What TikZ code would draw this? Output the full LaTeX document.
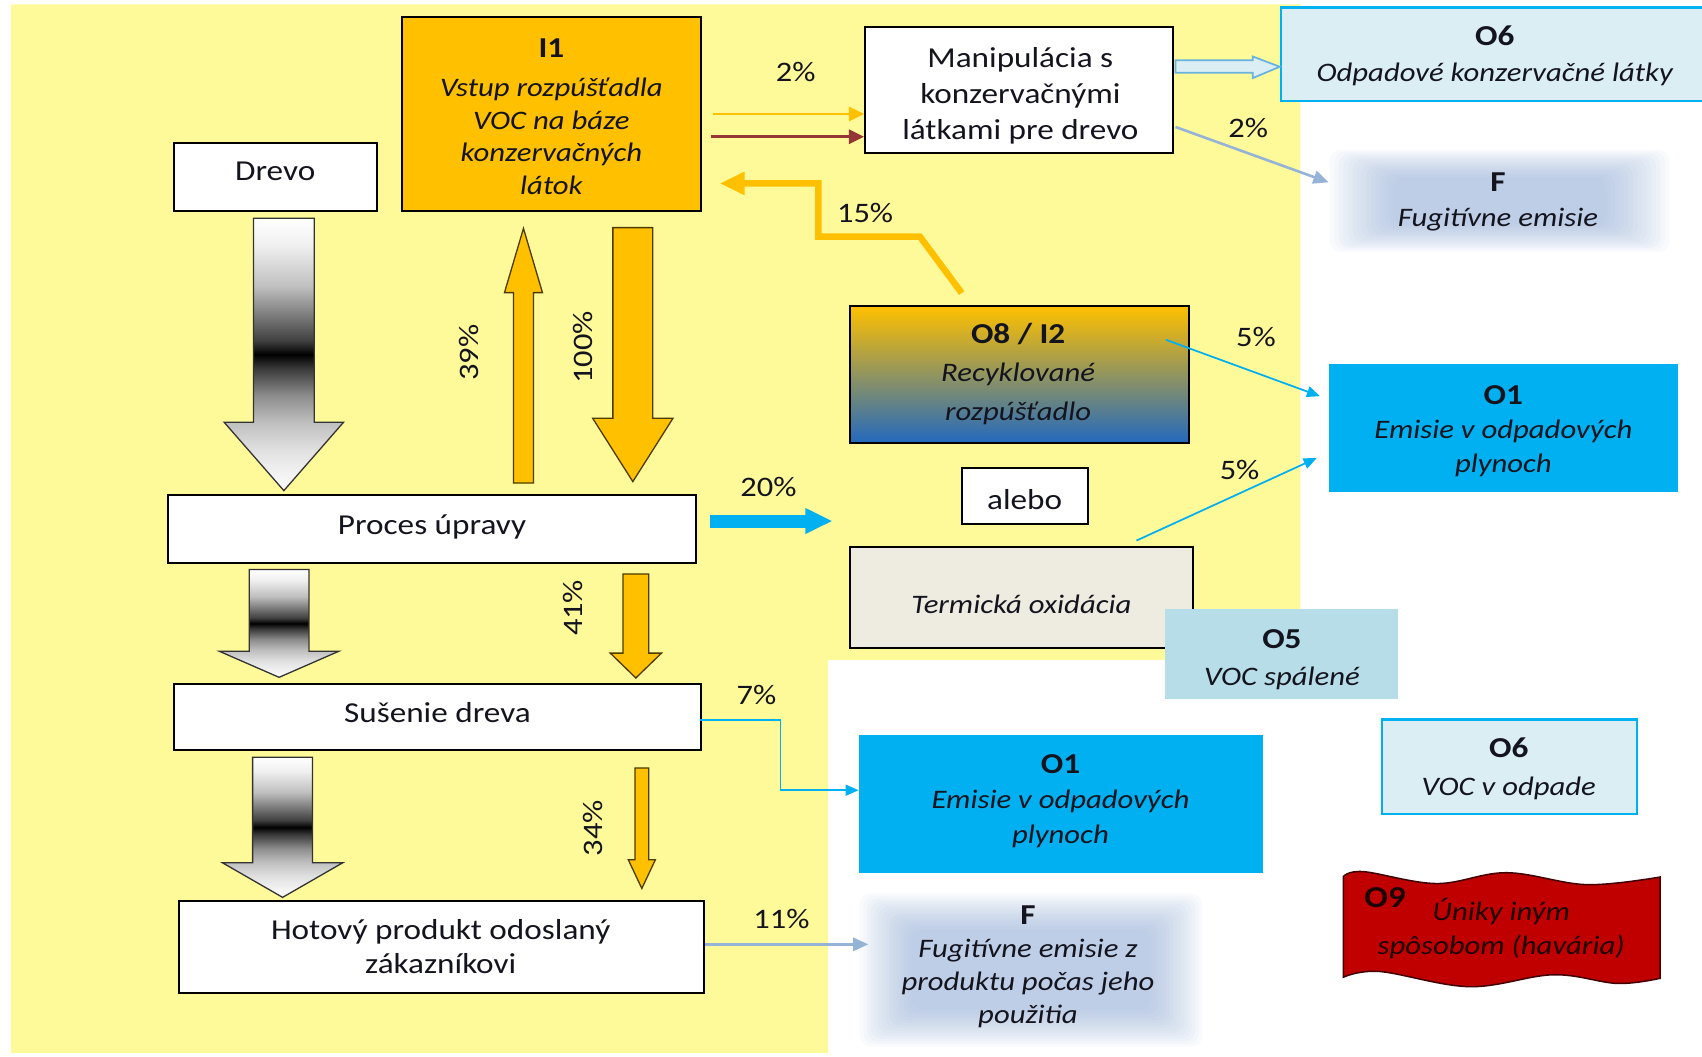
\documentclass[tikz,border=0pt]{standalone}
\usepackage{fontspec}
\setmainfont{Carlito}[FakeStretch=1.15]
\usetikzlibrary{arrows.meta}
\definecolor{bgyellow}{RGB}{255,250,153}
\definecolor{orng}{RGB}{255,192,0}
\definecolor{cyanb}{RGB}{0,176,240}
\definecolor{paleblue}{RGB}{219,238,244}
\definecolor{o5blue}{RGB}{183,222,232}
\definecolor{steel}{RGB}{149,179,215}
\definecolor{beige}{RGB}{238,236,225}
\definecolor{darkred}{RGB}{192,0,0}
\definecolor{brownarr}{RGB}{149,55,53}
\definecolor{glowc}{RGB}{150,178,218}
\definecolor{txt}{RGB}{20,20,30}
\definecolor{o8mid}{RGB}{185,160,150}
\definecolor{o8blue}{RGB}{35,105,190}
\pgfdeclareverticalshading{woodgrad}{100bp}{color(0bp)=(black!2); color(25bp)=(black!2); color(27.5bp)=(black!4); color(32.5bp)=(black!12); color(37.5bp)=(black!25); color(42.5bp)=(black!45); color(47.5bp)=(black!78); color(50bp)=(black); color(52.5bp)=(black!75); color(57.5bp)=(black!50); color(62.5bp)=(black!25); color(70bp)=(black!6); color(75bp)=(white); color(100bp)=(white)}
\newcommand{\rmf}{\fontsize{13.3}{16.5}\selectfont}
\newcommand{\itf}[1]{\fontsize{12.3}{#1}\selectfont\itshape}
\newcommand{\hd}[1]{{\upshape\bfseries\fontsize{13.3}{15}\selectfont #1}}
\newcommand{\blkarrow}[7]{\path[#1] ({#2-#3},#5) -- ({#2-#3},#6) -- ({#2-#4},#6) -- (#2,#7) -- ({#2+#4},#6) -- ({#2+#3},#6) -- ({#2+#3},#5) -- cycle;}
\begin{document}
\begin{tikzpicture}[x=0.5pt,y=-0.5pt,
  box/.style={draw=black, line width=0.9pt, inner sep=0pt},
  whitebox/.style={box, fill=white},
  lbl/.style={inner sep=0pt, align=center, text=txt},
  rmlbl/.style={lbl, font=\rmf},
  pct/.style={font=\fontsize{13}{15}\selectfont, text=txt, inner sep=0pt},
  orarrow/.style={fill=orng, draw=black!70!orng, line width=0.6pt},
  woodarrow/.style={shade, shading=woodgrad, draw=black!80, line width=0.6pt},
  thinor/.style={draw=orng, line width=1.3pt, -{Triangle[length=7pt,width=6.5pt]}},
  thinbr/.style={draw=brownarr, line width=1.3pt, -{Triangle[length=7pt,width=6.5pt]}},
  cyanarr/.style={draw=cyanb, line width=0.8pt, -{Triangle[length=6pt,width=5pt]}},
  steelarr/.style={draw=steel, line width=1.2pt, -{Triangle[length=7pt,width=6pt]}},
  or15/.style={draw=orng, line width=3pt, -{Triangle[length=11.5pt,width=10pt]}},
  blue20/.style={draw=cyanb, line width=6pt, -{Triangle[length=12.5pt,width=11pt]}}
]
\clip (0,0) rectangle (1568,973);
\fill[white] (0,0) rectangle (1568,973);
% background
\fill[bgyellow] (10,4) -- (1198,4) -- (1198,608) -- (763,608) -- (763,970) -- (10,970) -- cycle;

% glows (soft-edged fields behind the F texts)
\foreach \i in {0,...,14}{
  \fill[glowc, opacity=0.055, rounded corners=5pt] ({1225+4.2*\i},{138+1.8*\i}) rectangle ({1538-4.2*\i},{232-1.8*\i});
  \fill[glowc, opacity=0.055, rounded corners=5pt] ({792+3.4*\i},{823+2.4*\i}) rectangle ({1108-3.4*\i},{964-2.4*\i});
}

% boxes
\node[box, fill=orng, minimum width=138pt, minimum height=89pt] (I1) at (508,105) {};
\node[lbl, font={\itf{15}}] (I1t) at (508,107.5) {\hd{I1}\\[3pt]Vstup rozpúšťadla\\VOC na báze\\konzervačných\\látok};
\node[whitebox, minimum width=93.5pt, minimum height=31pt] (drevo) at (253.5,163) {};
\node[rmlbl] (drevot) at (253.5,158) {Drevo};
\node[whitebox, minimum width=142pt, minimum height=58pt] (manip) at (939,83) {};
\node[rmlbl] (manipt) at (940,88) {Manipulácia s\\konzervačnými\\látkami pre drevo};
\node[box, draw=cyanb, fill=paleblue, line width=1.2pt, minimum width=196pt, minimum height=43pt] (O6a) at (1376,50) {};
\node[lbl, font={\itf{16.5}}] (O6at) at (1377,51.5) {\hd{O6}\\Odpadové konzervačné látky};
\node[box, top color=orng, middle color=o8mid, bottom color=o8blue, minimum width=156pt, minimum height=63pt] (O8) at (939,345) {};
\node[lbl, font={\itf{17.6}}] (O8t) at (938,344.5) {\hd{O8 / I2}\\Recyklované\\rozpúšťadlo};
\node[box, draw=cyanb, fill=cyanb, minimum width=160pt, minimum height=58pt] (O1a) at (1385,394) {};
\node[lbl, font={\itf{15.75}}] (O1at) at (1385,397.5) {\hd{O1}\\Emisie v odpadových\\plynoch};
\node[whitebox, minimum width=58pt, minimum height=26pt] (alebo) at (944,457) {};
\node[rmlbl] (alebot) at (944,460) {alebo};
\node[whitebox, minimum width=243pt, minimum height=31.5pt] (proces) at (398,487.5) {};
\node[rmlbl] (procest) at (398,485.5) {Proces úpravy};
\node[box, fill=beige, minimum width=158pt, minimum height=46.5pt] (term) at (941,550.5) {};
\node[lbl, font={\itf{15}}] (termt) at (941,557) {Termická oxidácia};
\node[box, draw=none, fill=o5blue, minimum width=107.5pt, minimum height=41.5pt] (O5) at (1180.5,602.5) {};
\node[lbl, font={\itf{17}}] (O5t) at (1181,607.5) {\hd{O5}\\VOC spálené};
\node[whitebox, minimum width=243pt, minimum height=30.5pt] (susenie) at (403,660.5) {};
\node[rmlbl] (susenit) at (403,656.5) {Sušenie dreva};
\node[box, draw=cyanb, fill=cyanb, minimum width=185.5pt, minimum height=62.5pt] (O1b) at (977.5,740.5) {};
\node[lbl, font={\itf{16}}] (O1bt) at (977,738) {\hd{O1}\\Emisie v odpadových\\plynoch};
\node[box, draw=cyanb, fill=paleblue, line width=1.2pt, minimum width=117.5pt, minimum height=43.5pt] (O6b) at (1390.5,706.5) {};
\node[lbl, font={\itf{17.5}}] (O6bt) at (1390,708.5) {\hd{O6}\\VOC v odpade};
\node[whitebox, minimum width=242pt, minimum height=42.5pt] (hotovy) at (407,872.5) {};
\node[lbl, font={\fontsize{13.3}{16}\selectfont}] (hotovyt) at (406,872) {Hotový produkt odoslaný\\zákazníkovi};
\node[lbl, font={\itf{16.3}}] (Fa) at (1380,186) {\hd{F}\\Fugitívne emisie};
\node[lbl, font={\itf{15.2}}] (Fb) at (947,890.5) {\hd{F}\\Fugitívne emisie z\\produktu počas jeho\\použitia};

% O9 flag
\filldraw[fill=darkred, draw=black!65!darkred, line width=0.7pt]
  plot[smooth, tension=0.6] coordinates {(1237.5,807.6) (1256,803) (1323.5,814) (1388,804) (1461.7,815) (1529.3,808)}
  -- plot[smooth, tension=0.6] coordinates {(1529.3,901.3) (1490,906) (1431,898) (1354,909) (1271,895) (1237.5,900.3)}
  -- cycle;
\node[lbl, text=black!85!darkred] (O9lab) at (1276,827) {\hd{\fontsize{14}{15}\selectfont O9}};
\node[lbl, font={\itf{15.5}}, text=black!85!darkred] (O9txt) at (1383,855.5) {Úniky iným\\spôsobom (havária)};

% gray block arrows
\blkarrow{woodarrow}{261.5}{28}{55}{201}{389}{452}
\blkarrow{woodarrow}{257.1}{27.5}{55}{524.6}{600}{624}
\blkarrow{woodarrow}{260.35}{27.6}{55.45}{697.6}{794.8}{826.7}

% orange block arrows
\blkarrow{orarrow}{482.25}{9.25}{17.5}{445}{269.6}{210.4}
\blkarrow{orarrow}{583}{18.4}{37}{209.7}{385.3}{443.7}
\blkarrow{orarrow}{585.8}{11.8}{23.6}{528.8}{601.7}{624.6}
\blkarrow{orarrow}{591.3}{6.3}{12.5}{707.5}{792}{818.5}

% thin connectors
\coordinate (o2s) at (657,105);
\coordinate (b2s) at (655,126);
\draw[thinor] (o2s) -- (o2s -| manip.west);
\draw[thinbr] (b2s) -- (b2s -| manip.west);
\coordinate (r15s) at (886,270);
\coordinate (r15e) at (663,169);
\draw[or15] (r15s) -- (847.5,218) -- (754,218) -- (754,169) -- (r15e);
\coordinate (b20s) at (654,480);
\coordinate (b20e) at (767,480);
\draw[blue20] (b20s) -- (b20e);
\path[fill=paleblue, draw=steel!70!cyanb, line width=0.8pt] (1083,55.5) -- (1154,55.5) -- (1154,52) -- (1179,61.5) -- (1154,72) -- (1154,67) -- (1083,67) -- cycle;
\coordinate (mfs) at (1083,117);
\coordinate (mfe) at (1224,168);
\draw[steelarr] (mfs) -- (mfe);
\coordinate (o8s) at (1074,313);
\coordinate (o8e) at (1216,365);
\draw[cyanarr] (o8s) -- (o8e);
\coordinate (tms) at (1047,498);
\coordinate (tme) at (1213,422);
\draw[cyanarr] (tms) -- (tme);
\coordinate (sw) at (719,728);
\coordinate (ss) at (645,663);
\draw[cyanarr] (ss) -| (sw) -- (sw -| O1b.west);
\coordinate (fbin) at (800,870);
\draw[steelarr] (hotovy.east |- fbin) -- (fbin);

% labels
\node[pct] (p2a) at (733,66) {2\%};
\node[pct] (p2b) at (1150,118) {2\%};
\node[pct] (p15) at (797,196) {15\%};
\node[pct] (p5a) at (1157,310) {5\%};
\node[pct] (p5b) at (1142,433) {5\%};
\node[pct] (p20) at (708,449) {20\%};
\node[pct] (p7) at (697,640) {7\%};
\node[pct] (p11) at (720,847) {11\%};
\node[pct, rotate=90] (p39) at (432,325) {39\%};
\node[pct, rotate=90] (p100) at (537,320) {100\%};
\node[pct, rotate=90] (p41) at (528,560) {41\%};
\node[pct, rotate=90] (p34) at (546,763) {34\%};
\end{tikzpicture}
\end{document}
